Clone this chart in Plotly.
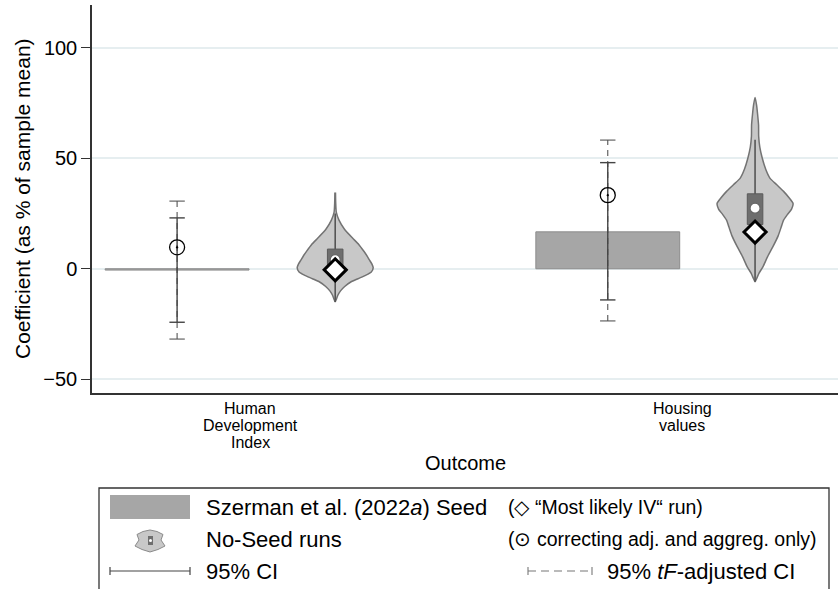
import plotly.graph_objects as go

# ---------------- data ----------------
outcomes = ["Human<br>Development<br>Index", "Housing<br>values"]
outcome_pos = [1, 2]
seed_pos = [0.831, 1.828]
noseed_pos = [1.197, 2.169]

seed_coef = [-0.6, 16.7]
ci95_low = [-24.2, -14.1]
ci95_high = [23.0, 48.0]
ci_tf_low = [-31.8, -23.6]
ci_tf_high = [30.6, 58.2]
corrected_coef = [9.7, 33.3]
most_likely_iv = [-0.5, 16.6]

noseed_median = [4.1, 27.4]
noseed_q1 = [-2.0, 20.0]
noseed_q3 = [8.9, 33.9]
noseed_adj_low = [-15.0, -5.8]
noseed_adj_high = [25.0, 58.3]

# violin density profiles (relative density at given coefficient values)
hdi_density_y = [34.5, 30, 25.5, 22, 18, 14, 11, 8, 6, 4, 2, 0.5, -1.5, -3, -4.5,
                 -6, -8, -10, -12, -14, -15]
hdi_density = [0.008, 0.013, 0.03, 0.1, 0.24, 0.45, 0.62, 0.75, 0.83, 0.9, 0.97,
               1.0, 0.95, 0.8, 0.6, 0.41, 0.25, 0.14, 0.07, 0.026, 0.0]
housing_density_y = [77.5, 74, 70, 65, 60, 55, 50, 45, 41, 38, 35, 32, 29.5, 27, 24.5,
                     22, 19, 15, 10, 5.5, 1, -2, -4.5, -6]
housing_density = [0.0, 0.04, 0.066, 0.092, 0.095, 0.125, 0.19, 0.28, 0.39, 0.57,
                   0.75, 0.9, 1.0, 0.96, 0.85, 0.75, 0.69, 0.61, 0.47, 0.33,
                   0.21, 0.105, 0.04, 0.0]
violin_y = [hdi_density_y, housing_density_y]
violin_d = [hdi_density, housing_density]

y_ticks = [-50, 0, 50, 100]

# ---------------- styling ----------------
FONT = "Liberation Sans, Arial, Helvetica, sans-serif"
BAR_COL = "#a6a6a6"
VIO_FILL = "#c8c8c8"
VIO_LINE = "#737373"
BOX_COL = "#6e6e6e"
CI_COL = "#444444"
VIO_HALF = 0.088
BOX_HALF = 0.018
CAP = 11

fig = go.Figure()

# Seed bars
fig.add_trace(go.Bar(x=seed_pos, y=seed_coef, width=0.333,
                     marker=dict(color=BAR_COL, line=dict(color="#8c8c8c", width=1)),
                     showlegend=False, hoverinfo="skip"))

# tF-adjusted CI (dashed) and 95% CI (solid)
for i in range(2):
    fig.add_trace(go.Scatter(x=[seed_pos[i], seed_pos[i]], y=[ci_tf_low[i], ci_tf_high[i]],
                             mode="lines+markers",
                             line=dict(color="#555555", width=1.1, dash="6px,5px"),
                             marker=dict(symbol="line-ew-open", size=CAP,
                                         line=dict(color="#555555", width=1.1)),
                             showlegend=False, hoverinfo="skip"))
for i in range(2):
    fig.add_trace(go.Scatter(x=[seed_pos[i], seed_pos[i]], y=[ci95_low[i], ci95_high[i]],
                             mode="lines+markers",
                             line=dict(color=CI_COL, width=1.4),
                             marker=dict(symbol="line-ew-open", size=CAP,
                                         line=dict(color=CI_COL, width=1.4)),
                             showlegend=False, hoverinfo="skip"))

# corrected-only estimate
fig.add_trace(go.Scatter(x=seed_pos, y=corrected_coef, mode="markers",
                         marker=dict(symbol="circle-open-dot", size=15, color="black",
                                     line=dict(color="black", width=1.3)),
                         showlegend=False, hoverinfo="skip"))

# No-Seed violins
for i in range(2):
    c = noseed_pos[i]
    ys = violin_y[i]
    ds = violin_d[i]
    xr = [c + VIO_HALF * d for d in ds]
    xl = [c - VIO_HALF * d for d in ds]
    fig.add_trace(go.Scatter(x=xr + xl[::-1], y=ys + ys[::-1], mode="lines",
                             fill="toself", fillcolor=VIO_FILL,
                             line=dict(color=VIO_LINE, width=1.5, shape="spline", smoothing=0.6),
                             showlegend=False, hoverinfo="skip"))
    # whisker
    fig.add_trace(go.Scatter(x=[c, c], y=[noseed_adj_low[i], noseed_adj_high[i]], mode="lines",
                             line=dict(color="#555555", width=1.6),
                             showlegend=False, hoverinfo="skip"))
    # box
    fig.add_trace(go.Scatter(x=[c - BOX_HALF, c + BOX_HALF, c + BOX_HALF, c - BOX_HALF, c - BOX_HALF],
                             y=[noseed_q1[i], noseed_q1[i], noseed_q3[i], noseed_q3[i], noseed_q1[i]],
                             mode="lines", fill="toself", fillcolor=BOX_COL,
                             line=dict(color="#5a5a5a", width=1),
                             showlegend=False, hoverinfo="skip"))

# medians
fig.add_trace(go.Scatter(x=noseed_pos, y=noseed_median, mode="markers",
                         marker=dict(symbol="circle", size=10, color="white",
                                     line=dict(color="#666666", width=1.2)),
                         showlegend=False, hoverinfo="skip"))
# most likely IV run
fig.add_trace(go.Scatter(x=noseed_pos, y=most_likely_iv, mode="markers",
                         marker=dict(symbol="diamond", size=17, color="white",
                                     line=dict(color="black", width=3)),
                         showlegend=False, hoverinfo="skip"))

# ---------------- layout ----------------
L, R, T, B = 92, 838, 5, 393
W, H = 838, 589


def px(x):
    return (x - L) / (R - L)


def py(y):
    return (B - y) / (B - T)


shapes = []
annotations = []

# legend frame
shapes.append(dict(type="rect", xref="paper", yref="paper", x0=px(99), x1=px(829),
                   y0=py(590), y1=py(488), line=dict(color="#333333", width=1.3)))
# seed key
shapes.append(dict(type="rect", xref="paper", yref="paper", x0=px(110), x1=px(190),
                   y0=py(519), y1=py(495), fillcolor=BAR_COL, line=dict(width=0)))
# violin key
icon = [(150, 530), (157, 531.5), (163, 534.5), (161, 540), (165, 546), (158, 549.5),
        (150, 552), (142, 549.5), (135, 546), (139, 540), (137, 534.5), (143, 531.5)]
path = "M " + " L ".join(f"{px(a):.5f},{py(b):.5f}" for a, b in icon) + " Z"
shapes.append(dict(type="path", xref="paper", yref="paper", path=path,
                   fillcolor=VIO_FILL, line=dict(color="#8a8a8a", width=1)))
shapes.append(dict(type="rect", xref="paper", yref="paper", x0=px(148), x1=px(153),
                   y0=py(545), y1=py(536), fillcolor=BOX_COL, line=dict(width=0)))
shapes.append(dict(type="circle", xref="paper", yref="paper", x0=px(149), x1=px(152),
                   y0=py(542), y1=py(539), fillcolor="white", line=dict(width=0)))
# CI key
shapes.append(dict(type="line", xref="paper", yref="paper", x0=px(110), x1=px(190),
                   y0=py(571), y1=py(571), line=dict(color=CI_COL, width=1.2)))
for xx in (110, 190):
    shapes.append(dict(type="line", xref="paper", yref="paper", x0=px(xx), x1=px(xx),
                       y0=py(567), y1=py(575), line=dict(color=CI_COL, width=1.2)))
# tF key
shapes.append(dict(type="line", xref="paper", yref="paper", x0=px(528), x1=px(592),
                   y0=py(571), y1=py(571), line=dict(color="#777777", width=1.1, dash="8px,5px")))
for xx in (528, 592):
    shapes.append(dict(type="line", xref="paper", yref="paper", x0=px(xx), x1=px(xx),
                       y0=py(567), y1=py(575), line=dict(color="#777777", width=1.1)))


def txt(x, y, s, size, anchor="left", xref="paper"):
    annotations.append(dict(xref=xref, yref="paper", x=(px(x) if xref == "paper" else x),
                            y=py(y), text=s, showarrow=False, xanchor=anchor,
                            yanchor="middle",
                            font=dict(family=FONT, size=size, color="black")))


txt(204, 507, "Szerman et al. (2022<i>a</i>) Seed", 22)
txt(204, 539, "No-Seed runs", 22)
txt(204, 571, "95% CI", 22)
txt(506, 507, "(\u25c7 \u201cMost likely IV\u201c run)", 19.5)
txt(506, 539, "(\u2299 correcting adj. and aggreg. only)", 19.5)
txt(605, 571, "95% <i>tF</i>-adjusted CI", 22)

# x category labels (tight line spacing)
for pos, lab in zip(outcome_pos, outcomes):
    for k, line in enumerate(lab.split("<br>")):
        txt(pos, 408 + 17 * k, line, 16, anchor="center", xref="x")

# axis titles
annotations.append(dict(xref="paper", yref="paper", x=px(22), y=py(199),
                        text="Coefficient (as % of sample mean)", textangle=-90,
                        showarrow=False, xanchor="center", yanchor="middle",
                        font=dict(family=FONT, size=21, color="black")))
txt(465, 463, "Outcome", 20, anchor="center")

fig.update_layout(
    width=W, height=H,
    margin=dict(l=L, r=W - R, t=T, b=H - B, pad=0),
    paper_bgcolor="white", plot_bgcolor="white",
    barmode="overlay", showlegend=False,
    font=dict(family=FONT, color="black"),
    shapes=shapes, annotations=annotations,
    xaxis=dict(range=[0.634, 2.361], tickvals=outcome_pos, ticktext=["", ""],
               showgrid=False, zeroline=False, showline=True, linecolor="#333333",
               linewidth=1.5, ticks=""),
    yaxis=dict(range=[-56.2, 119.3], tickvals=y_ticks, showgrid=True,
               gridcolor="#e6eef0", gridwidth=1.5, zeroline=False, showline=True,
               linecolor="#333333", linewidth=1.5, ticks="outside", ticklen=9,
               tickwidth=1.3, tickcolor="#333333", tickfont=dict(size=20, family=FONT)),
)

fig.write_html("out.html", config={"displayModeBar": False},
               post_script="document.body.style.margin='0';document.body.style.overflow='hidden';")
